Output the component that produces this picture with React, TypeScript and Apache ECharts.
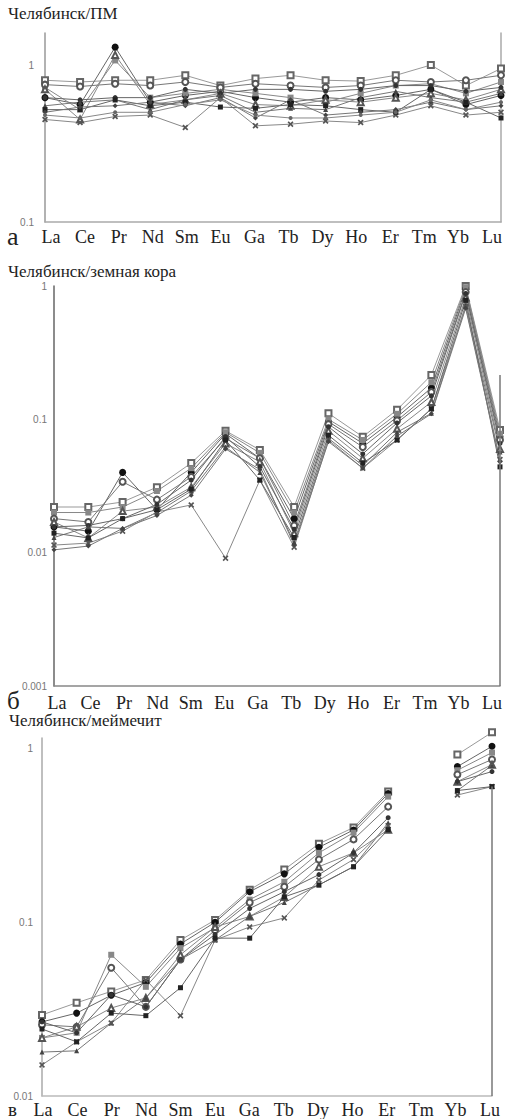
import React, { useEffect, useRef } from "react";
import * as echarts from "echarts";

// ---------- texts ----------
const elements = ["La", "Ce", "Pr", "Nd", "Sm", "Eu", "Ga", "Tb", "Dy", "Ho", "Er", "Tm", "Yb", "Lu"];
const titleA = "Челябинск/ПМ";
const titleB = "Челябинск/земная кора";
const titleC = "Челябинск/меймечит";
const letterA = "а";
const letterB = "б";
const letterC = "в";

// ---------- axis ranges ----------
const rangeA = [0.1, 1.6];
const rangeB = [0.001, 1];
const rangeC = [0.01, 1.15];
const rightLineB = [0.215, 0.001];
const rightLineC = [0.604, 0.01];

// ---------- panel a: Челябинск / ПМ ----------
const pm1 = [0.80, 0.78, 0.80, 0.80, 0.86, 0.74, 0.82, 0.86, 0.80, 0.79, 0.86, 1.00, 0.74, 0.95];
const pm2 = [0.62, 0.56, 1.30, 0.58, 0.64, 0.68, 0.62, 0.58, 0.62, 0.60, 0.64, 0.70, 0.56, 0.64];
const pm3 = [0.72, 0.52, 1.07, 0.62, 0.66, 0.70, 0.66, 0.62, 0.58, 0.66, 0.74, 0.76, 0.66, 0.78];
const pm4 = [0.75, 0.73, 0.76, 0.74, 0.78, 0.72, 0.76, 0.74, 0.72, 0.74, 0.80, 0.78, 0.80, 0.86];
const pm5 = [0.70, 0.45, 1.16, 0.56, 0.60, 0.66, 0.56, 0.55, 0.60, 0.58, 0.62, 0.66, 0.60, 0.70];
const pm6 = [0.62, 0.60, 0.62, 0.62, 0.70, 0.66, 0.70, 0.70, 0.68, 0.70, 0.74, 0.74, 0.68, 0.72];
const pm7 = [0.55, 0.58, 0.60, 0.52, 0.60, 0.64, 0.50, 0.53, 0.52, 0.62, 0.68, 0.62, 0.58, 0.66];
const pm8 = [0.45, 0.43, 0.47, 0.48, 0.40, 0.62, 0.41, 0.42, 0.44, 0.43, 0.48, 0.55, 0.48, 0.50];
const pm9 = [0.52, 0.52, 0.60, 0.55, 0.58, 0.54, 0.53, 0.56, 0.55, 0.52, 0.50, 0.70, 0.58, 0.46];
const pm10 = [0.50, 0.54, 0.55, 0.58, 0.55, 0.62, 0.46, 0.60, 0.48, 0.50, 0.52, 0.58, 0.52, 0.55];
const pm11 = [0.48, 0.46, 0.50, 0.50, 0.56, 0.60, 0.48, 0.46, 0.46, 0.48, 0.50, 0.60, 0.52, 0.58];

// ---------- panel б: Челябинск / земная кора ----------
const cr1 = [0.022, 0.022, 0.024, 0.031, 0.047, 0.082, 0.059, 0.022, 0.111, 0.074, 0.118, 0.215, 1.00, 0.083];
const cr2 = [0.0156, 0.0145, 0.040, 0.021, 0.040, 0.078, 0.051, 0.018, 0.096, 0.066, 0.104, 0.172, 0.95, 0.074];
const cr3 = [0.020, 0.020, 0.022, 0.029, 0.043, 0.080, 0.056, 0.020, 0.100, 0.070, 0.110, 0.190, 0.98, 0.078];
const cr4 = [0.018, 0.017, 0.034, 0.025, 0.037, 0.072, 0.051, 0.016, 0.092, 0.062, 0.098, 0.160, 0.90, 0.070];
const cr5 = [0.017, 0.0129, 0.0205, 0.022, 0.031, 0.066, 0.048, 0.014, 0.082, 0.051, 0.085, 0.135, 0.82, 0.060];
const cr6 = [0.0156, 0.016, 0.018, 0.023, 0.035, 0.074, 0.044, 0.015, 0.088, 0.055, 0.094, 0.150, 0.88, 0.066];
const cr7 = [0.013, 0.0156, 0.0152, 0.020, 0.029, 0.062, 0.040, 0.012, 0.072, 0.045, 0.080, 0.111, 0.72, 0.057];
const cr8 = [0.0114, 0.0118, 0.0145, 0.0202, 0.0228, 0.0091, 0.035, 0.011, 0.070, 0.043, 0.070, 0.120, 0.70, 0.050];
const cr9 = [0.014, 0.0129, 0.018, 0.021, 0.030, 0.070, 0.035, 0.013, 0.076, 0.047, 0.070, 0.120, 0.78, 0.044];
const cr10 = [0.0105, 0.0112, 0.0152, 0.019, 0.027, 0.060, 0.042, 0.0115, 0.068, 0.043, 0.075, 0.110, 0.68, 0.048];

// ---------- panel в: Челябинск / меймечит ----------
const mm1 = [0.0293, 0.0344, 0.040, 0.0466, 0.079, 0.103, 0.154, 0.201, 0.283, 0.351, 0.565, null, 0.923, 1.24];
const mm2 = [0.0267, 0.030, 0.038, 0.045, 0.075, 0.100, 0.150, 0.190, 0.270, 0.340, 0.550, null, 0.787, 1.03];
const mm3 = [0.0216, 0.0231, 0.065, 0.0425, 0.071, 0.093, 0.135, 0.171, 0.251, 0.328, 0.529, null, 0.75, 0.948];
const mm4 = [0.0257, 0.025, 0.0547, 0.0326, 0.061, 0.090, 0.130, 0.160, 0.230, 0.300, 0.463, null, 0.708, 0.865];
const mm5 = [0.0216, 0.025, 0.0321, 0.0367, 0.065, 0.094, 0.108, 0.140, 0.209, 0.251, 0.341, null, 0.645, 0.808];
const mm6 = [0.0267, 0.0231, 0.0382, 0.0326, 0.061, 0.085, 0.120, 0.150, 0.188, 0.251, 0.400, null, 0.645, 0.737];
const mm7 = [0.0179, 0.0182, 0.0263, 0.0367, 0.061, 0.079, 0.108, 0.130, 0.164, 0.209, 0.374, null, 0.573, 0.80];
const mm8 = [0.0151, 0.0205, 0.0263, 0.0466, 0.029, 0.079, 0.094, 0.106, 0.175, 0.230, 0.360, null, 0.54, 0.604];
const mm9 = [0.0243, 0.0205, 0.030, 0.029, 0.042, 0.081, 0.081, 0.140, 0.164, 0.209, 0.341, null, 0.573, 0.604];

const panelA = [pm1, pm2, pm3, pm4, pm5, pm6, pm7, pm8, pm9, pm10, pm11];
const panelB = [cr1, cr2, cr3, cr4, cr5, cr6, cr7, cr8, cr9, cr10];
const panelC = [mm1, mm2, mm3, mm4, mm5, mm6, mm7, mm8, mm9];

// ---------- marker styles ----------
const CROSS = "path://M2,0L5,3L8,0L10,2L7,5L10,8L8,10L5,7L2,10L0,8L3,5L0,2Z";
const MARKS: { symbol: string; size: number; color: string }[] = [
  { symbol: "emptyRect", size: 6, color: "#666" },
  { symbol: "circle", size: 7, color: "#111" },
  { symbol: "rect", size: 6, color: "#888" },
  { symbol: "emptyCircle", size: 6, color: "#555" },
  { symbol: "emptyTriangle", size: 6, color: "#555" },
  { symbol: "circle", size: 5, color: "#333" },
  { symbol: "triangle", size: 5, color: "#444" },
  { symbol: CROSS, size: 6, color: "#555" },
  { symbol: "rect", size: 5, color: "#222" },
  { symbol: "diamond", size: 5, color: "#444" },
  { symbol: "circle", size: 4, color: "#666" },
];
const LINE_COLORS = ["#999", "#666", "#888", "#777", "#888", "#666", "#777", "#888", "#666", "#777", "#888"];

const SERIF = "'Liberation Serif', 'DejaVu Serif', serif";
const SANS = "'Liberation Sans', Arial, sans-serif";

const decadeLabel = (v: number) => {
  const e = Math.log10(v);
  if (Math.abs(e - Math.round(e)) > 1e-6) return "";
  return String(Number(v.toPrecision(2)));
};

function buildSeries(panel: (number | null)[][], axis: number, markLine?: number[]) {
  return panel.map((data, i) => {
    const m = MARKS[i % MARKS.length];
    const s: any = {
      type: "line",
      xAxisIndex: axis,
      yAxisIndex: axis,
      data,
      clip: false,
      symbol: m.symbol,
      symbolSize: m.size,
      itemStyle: { color: m.color, borderColor: m.color, borderWidth: m.symbol.startsWith("empty") ? 1 : 0 },
      lineStyle: { color: LINE_COLORS[i % LINE_COLORS.length], width: 1 },
      emphasis: { disabled: true },
      z: 3,
    };
    if (i === 0 && markLine) {
      s.markLine = {
        silent: true,
        symbol: ["none", "none"],
        label: { show: false },
        lineStyle: { color: "#777", width: 1.5, type: "solid" },
        data: [[{ coord: [elements[13], markLine[0]] }, { coord: [elements[13], markLine[1]] }]],
      };
    }
    return s;
  });
}

export default function App() {
  const ref = useRef<HTMLDivElement>(null);
  useEffect(() => {
    if (!ref.current) return;
    const chart = echarts.init(ref.current, undefined, { renderer: "svg" });

    const mainX = (gridIndex: number, color: string) => ({
      type: "category",
      gridIndex,
      data: elements,
      boundaryGap: false,
      axisLine: { show: true, lineStyle: { color, width: 1.5 } },
      axisTick: { show: false },
      axisLabel: { show: false },
      splitLine: { show: false },
    });
    const labelX = (gridIndex: number, margin: number) => ({
      type: "category",
      gridIndex,
      data: elements,
      boundaryGap: false,
      axisLine: { show: false },
      axisTick: { show: false },
      axisLabel: { interval: 0, margin, fontFamily: SERIF, fontSize: 18, color: "#222" },
      splitLine: { show: false },
    });
    const logY = (gridIndex: number, range: number[], color: string, margin: number) => ({
      type: "log",
      logBase: 10,
      gridIndex,
      min: range[0],
      max: range[1],
      axisLine: { show: true, lineStyle: { color, width: 1.5 } },
      axisTick: { show: false },
      splitLine: { show: false },
      minorTick: { show: false },
      axisLabel: { formatter: decadeLabel, fontFamily: SANS, fontSize: 10, lineHeight: 8, color: "#777", margin },
    });
    const dummyY = (gridIndex: number) => ({ type: "value", gridIndex, show: false });

    const option: any = {
      animation: false,
      backgroundColor: "#fff",
      grid: [
        { left: 45, right: 16, top: 33, height: 189 },
        { left: 54, right: 17, top: 286, height: 400 },
        { left: 42, right: 25, top: 738, height: 358 },
        { left: 51, right: 25, top: 221, height: 1 },
        { left: 57, right: 25, top: 685, height: 1 },
        { left: 43, right: 27, top: 1095, height: 1 },
      ],
      xAxis: [mainX(0, "#aaa"), mainX(1, "#888"), mainX(2, "#bbb"), labelX(3, 6), labelX(4, 8), labelX(5, 6)],
      yAxis: [
        logY(0, rangeA, "#999", 11),
        logY(1, rangeB, "#666", 7),
        logY(2, rangeC, "#aaa", 9),
        dummyY(3),
        dummyY(4),
        dummyY(5),
        {
          type: "value",
          gridIndex: 0,
          position: "right",
          min: 0,
          max: 1,
          axisLine: { show: true, lineStyle: { color: "#aaa", width: 1.5 } },
          axisTick: { show: false },
          axisLabel: { show: false },
          splitLine: { show: false },
        },
      ],
      series: [
        ...buildSeries(panelA, 0),
        ...buildSeries(panelB, 1, rightLineB),
        ...buildSeries(panelC, 2, rightLineC),
      ],
      graphic: [
        { type: "text", left: 8, top: 5, style: { text: titleA, fontFamily: SERIF, fontSize: 17, fill: "#222" } },
        { type: "text", left: 8, top: 263, style: { text: titleB, fontFamily: SERIF, fontSize: 17, lineHeight: 17, fill: "#222" } },
        { type: "text", left: 9, top: 712, style: { text: titleC, fontFamily: SERIF, fontSize: 17, fill: "#222" } },
        { type: "text", left: 7, top: 223, style: { text: letterA, fontFamily: SERIF, fontSize: 26, fill: "#222" } },
        { type: "text", left: 7, top: 688, style: { text: letterB, fontFamily: SERIF, fontSize: 25, fill: "#222" } },
        { type: "text", left: 8, top: 1100, style: { text: letterC, fontFamily: SERIF, fontSize: 19, fill: "#222" } },
      ],
    };
    chart.setOption(option);
    return () => chart.dispose();
  }, []);

  return (
    <div
      ref={ref}
      style={{ position: "absolute", left: 0, top: 0, width: 517, height: 1119, background: "#fff" }}
    />
  );
}
